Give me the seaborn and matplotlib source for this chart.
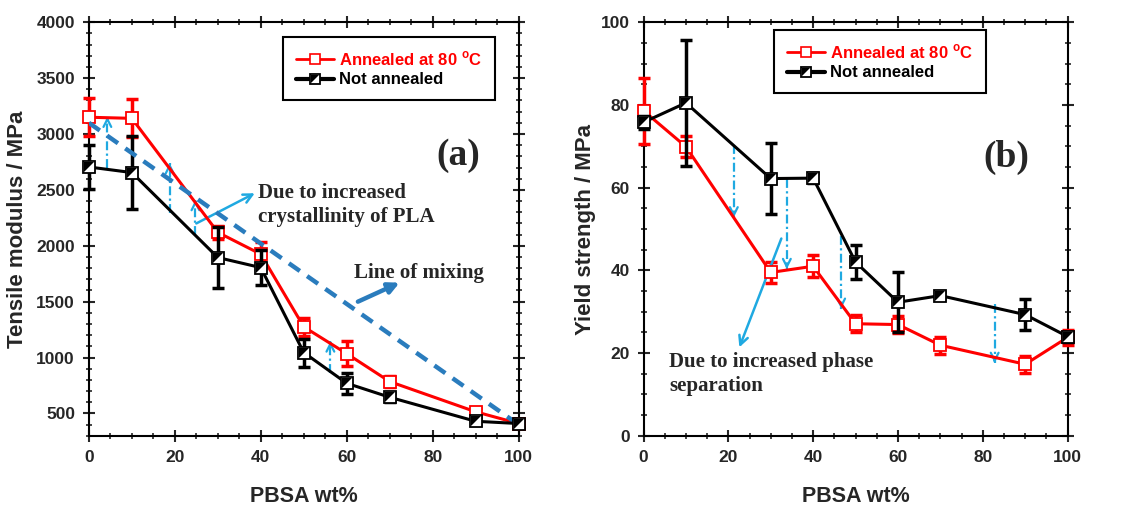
import numpy as np
import pandas as pd
import seaborn as sns
import matplotlib.pyplot as plt
from matplotlib.path import Path
from matplotlib.lines import Line2D
from matplotlib.ticker import MultipleLocator

# PBSA content of the blends
pbsa = [0, 10, 30, 40, 50, 60, 70, 90, 100]

# (a) tensile modulus, MPa
mod_ann = [3150, 3140, 2120, 1925, 1275, 1035, 785, 515, 410]
mod_ann_err = [170, 170, 60, 110, 80, 110, 50, 35, 30]
mod_not = [2705, 2655, 1895, 1805, 1045, 770, 645, 430, 410]
mod_not_err = [200, 330, 270, 160, 125, 95, 40, 30, 40]

# (b) yield strength, MPa
ys_ann = [78.6, 69.9, 39.5, 41.0, 27.1, 26.9, 21.9, 17.3, 23.8]
ys_ann_err = [8.0, 2.6, 2.5, 2.6, 2.0, 2.0, 2.0, 2.0, 1.8]
ys_not = [75.8, 80.5, 62.2, 62.3, 42.0, 32.3, 33.9, 29.3, 24.0]
ys_not_err = [1.5, 15.2, 8.5, 1.2, 4.2, 7.2, 0.8, 3.7, 1.2]

# line of mixing (a)
mix_x = [0, 100]
mix_y = [3100, 400]

# small cyan arrows (x, start y, end y)
a_arr_x = [4.3, 18.8, 24.8, 56.2]
a_arr_y0 = [2700, 2295, 2095, 866]
a_arr_y1 = [3155, 2740, 2410, 1145]
b_arr_x = [21.3, 33.8, 46.6, 82.8]
b_arr_y0 = [70.4, 62.0, 48.4, 31.9]
b_arr_y1 = [52.8, 40.3, 30.7, 17.6]

lbl_ann = r'Annealed at 80 $^{\mathbf{o}}$C'
lbl_not = 'Not annealed'

sns.set_style('ticks')
plt.rcParams['font.family'] = ['Liberation Sans', 'DejaVu Sans']
plt.rcParams['mathtext.fontset'] = 'custom'
plt.rcParams['mathtext.bf'] = 'Liberation Sans:bold'

CYAN = '#1fa9e1'
MIXBLUE = '#2a7cbd'
SERIF = ['Liberation Serif', 'DejaVu Serif']

# upper-left half of a square, for the half-filled marker
half_tri = Path([(-1, -1), (-1, 1), (1, 1), (-1, -1)],
                [Path.MOVETO, Path.LINETO, Path.LINETO, Path.CLOSEPOLY])

MS = 8


def draw_series(ax, y, yerr, color, black):
    df = pd.DataFrame({'x': pbsa, 'y': y})
    eb = ax.errorbar(df['x'], df['y'], yerr=yerr, fmt='none', ecolor=color,
                     elinewidth=2.5, capsize=4, capthick=2.5,
                     zorder=4 if black else 3)
    for art in eb.get_children():
        art.set_clip_on(False)
    sns.lineplot(data=df, x='x', y='y', ax=ax, color=color, lw=2.2,
                 marker='s', markersize=MS, markerfacecolor='white',
                 markeredgecolor=color, markeredgewidth=1.3,
                 zorder=5 if black else 3.5, clip_on=False)
    if black:
        ax.plot(df['x'], df['y'], ls='none', marker=half_tri, markersize=MS - 1.5,
                color='black', markeredgewidth=0, zorder=6, clip_on=False)


def cyan_arrow(ax, x, y0, y1):
    ax.plot([x, x], [y0, y1], color=CYAN, lw=1.6, ls=(0, (4, 1.5, 1, 1.5)), zorder=2)
    ax.annotate('', xy=(x, y1), xytext=(x, y1 - (y1 - y0) * 0.05),
                arrowprops=dict(arrowstyle='->', color=CYAN, lw=1.6,
                                mutation_scale=14, shrinkA=0, shrinkB=0), zorder=2)


def style_axes(ax, xmaj, xmin, ymaj, ymin):
    ax.xaxis.set_major_locator(MultipleLocator(xmaj))
    ax.xaxis.set_minor_locator(MultipleLocator(xmin))
    ax.yaxis.set_major_locator(MultipleLocator(ymaj))
    ax.yaxis.set_minor_locator(MultipleLocator(ymin))
    ax.tick_params(which='major', direction='inout', length=8, width=1.5,
                   top=True, right=True, labelsize=12.5, pad=6)
    ax.tick_params(which='minor', direction='inout', length=5, width=1.2,
                   top=True, right=True)
    for lab in ax.get_xticklabels() + ax.get_yticklabels():
        lab.set_fontweight('bold')
    for sp in ax.spines.values():
        sp.set_visible(True)
        sp.set_linewidth(1.5)
        sp.set_color('black')


def add_legend(ax, anchor):
    h_ann = Line2D([], [], color='red', lw=2, marker='s', markersize=MS - 1,
                   mfc='white', mec='red', mew=1.2)
    h_not_sq = Line2D([], [], color='black', lw=3, marker='s', markersize=MS - 1,
                      mfc='white', mec='black', mew=1.3)
    h_not_tri = Line2D([], [], ls='none', marker=half_tri, markersize=MS - 2.5,
                       color='black', mew=0)
    leg = ax.legend([h_ann, (h_not_sq, h_not_tri)], [lbl_ann, lbl_not],
                    loc='upper right', bbox_to_anchor=anchor, fancybox=False,
                    edgecolor='black', framealpha=1, handlelength=2.3,
                    borderpad=0.75, labelspacing=0.25, handletextpad=0.3,
                    borderaxespad=0, prop={'weight': 'bold', 'size': 12})
    leg.get_frame().set_linewidth(1.5)
    leg.get_texts()[0].set_color('red')
    leg.get_texts()[1].set_color('black')


fig = plt.figure(figsize=(11.25, 5.05), dpi=100)
ax1 = fig.add_axes([0.079, 0.137, 0.382, 0.819])
ax2 = fig.add_axes([0.572, 0.137, 0.377, 0.819])

# ---- (a) tensile modulus ----
ax1.plot(mix_x, mix_y, color=MIXBLUE, lw=3.2, ls=(0, (3, 2)), zorder=4.5)
for x, y0, y1 in zip(a_arr_x, a_arr_y0, a_arr_y1):
    cyan_arrow(ax1, x, y0, y1)
draw_series(ax1, mod_ann, mod_ann_err, 'red', False)
draw_series(ax1, mod_not, mod_not_err, 'black', True)

ax1.annotate('', xy=(38.6, 2470), xytext=(25, 2200),
             arrowprops=dict(arrowstyle='->', color=CYAN, lw=1.8,
                             mutation_scale=16, shrinkA=0, shrinkB=0))
ax1.text(39.3, 2560, 'Due to increased\ncrystallinity of PLA', family=SERIF,
         fontweight='bold', fontsize=15, va='top', ha='left', linespacing=1.25)
ax1.annotate('', xy=(72.3, 1670), xytext=(62.6, 1500),
             arrowprops=dict(arrowstyle='-|>', color=MIXBLUE, lw=3.2,
                             mutation_scale=16, shrinkA=0, shrinkB=0))
ax1.text(61.6, 1760, 'Line of mixing', family=SERIF, fontweight='bold',
         fontsize=15, va='center', ha='left')
ax1.text(86, 2810, '(a)', family=SERIF, fontweight='bold', fontsize=27,
         va='center', ha='center')

ax1.set_xlim(0, 100)
ax1.set_ylim(300, 4000)
style_axes(ax1, 20, 5, 500, 100)
ax1.set_xlabel('PBSA wt%', fontsize=15.5, fontweight='bold', labelpad=15)
ax1.set_ylabel('Tensile modulus / MPa', fontsize=16, fontweight='bold', labelpad=6)
add_legend(ax1, (0.944, 0.964))

# ---- (b) yield strength ----
for x, y0, y1 in zip(b_arr_x, b_arr_y0, b_arr_y1):
    cyan_arrow(ax2, x, y0, y1)
draw_series(ax2, ys_ann, ys_ann_err, 'red', False)
draw_series(ax2, ys_not, ys_not_err, 'black', True)

ax2.annotate('', xy=(22.6, 21.4), xytext=(32.5, 47.7),
             arrowprops=dict(arrowstyle='->', color=CYAN, lw=1.8,
                             mutation_scale=16, shrinkA=0, shrinkB=0))
ax2.text(6.0, 20.3, 'Due to increased phase\nseparation', family=SERIF,
         fontweight='bold', fontsize=15, va='top', ha='left', linespacing=1.25)
ax2.text(85.5, 67.2, '(b)', family=SERIF, fontweight='bold', fontsize=27,
         va='center', ha='center')

ax2.set_xlim(0, 100)
ax2.set_ylim(0, 100)
style_axes(ax2, 20, 5, 20, 5)
ax2.set_xlabel('PBSA wt%', fontsize=15.5, fontweight='bold', labelpad=15)
ax2.set_ylabel('Yield strength / MPa', fontsize=16, fontweight='bold', labelpad=3)
add_legend(ax2, (0.807, 0.981))

fig.savefig('out.png', dpi=100)
